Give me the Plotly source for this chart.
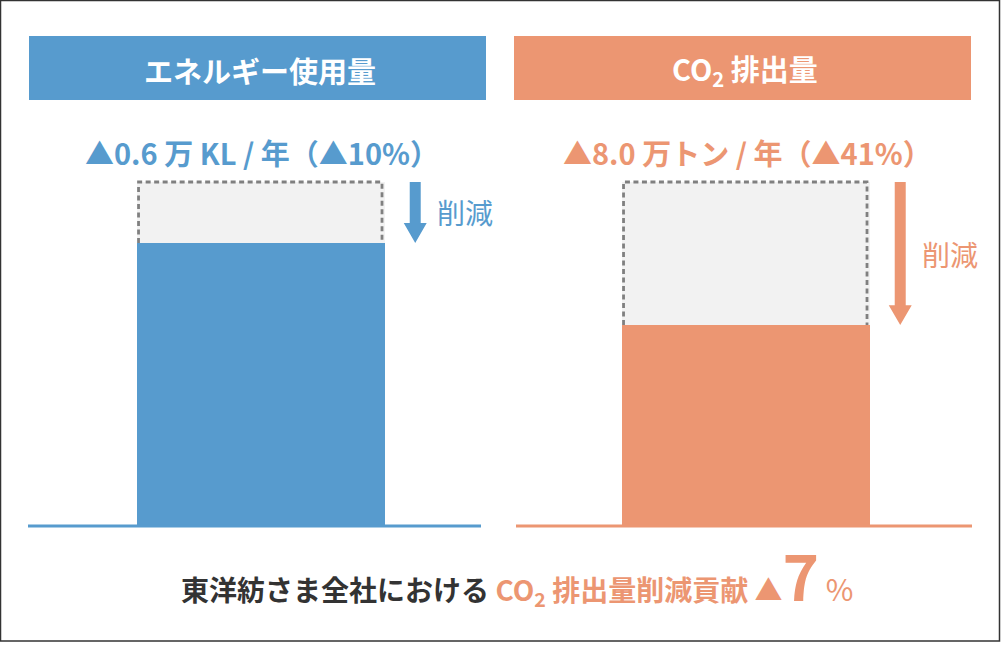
import plotly.graph_objects as go

# ---- data ----
categories = ["エネルギー使用量", "CO<sub>2</sub> 排出量"]
before_values = [100, 100]          # index before reduction
after_values = [82.3, 58.4]         # index after reduction (as drawn)
reduction_labels = ["▲0.6 万 KL / 年（▲10%）", "▲8.0 万トン / 年（▲41%）"]
arrow_label = "削減"
footer_dark = "東洋紡さま全社における"
footer_orange = "CO<sub>2</sub> 排出量削減貢献 ▲"
footer_value = "7"
footer_unit = "%"

BLUE = "#579BCE"
ORANGE = "#EC9672"
colors = [BLUE, ORANGE]
FONT = "Noto Sans CJK JP"

W, H = 1001, 664
def px(x):
    return x / W
def py(y):
    return 1 - y / H

x_pos = list(range(len(categories)))
bar_w = 0.511

fig = go.Figure()

# before (ghost) bars
fig.add_trace(go.Bar(
    x=x_pos, y=before_values, width=bar_w,
    marker=dict(color="#F2F2F2", line=dict(width=0)),
    hoverinfo="skip", showlegend=False,
))
# after bars
fig.add_trace(go.Bar(
    x=x_pos, y=after_values, width=bar_w,
    marker=dict(color=colors, line=dict(width=0)),
    hoverinfo="skip", showlegend=False,
))
# dashed outlines of the before bars
for i, (b, a) in enumerate(zip(before_values, after_values)):
    x0 = x_pos[i] - bar_w / 2 + 0.003
    x1 = x_pos[i] + bar_w / 2 - 0.006
    fig.add_trace(go.Scatter(
        x=[x0, x0, x1, x1], y=[a, b, b, a], mode="lines",
        line=dict(color="#808080", width=2.8, dash="5px,3.5px"),
        cliponaxis=False, hoverinfo="skip", showlegend=False,
    ))

shapes = []
annotations = []

# outer border
shapes.append(dict(type="rect", xref="paper", yref="paper",
                   x0=px(0.5), x1=px(999.5), y0=py(641), y1=py(0.5),
                   line=dict(color="#333333", width=1.5), fillcolor="rgba(0,0,0,0)"))

# headers
header_x = [(29, 486), (514, 971)]
for i, (hx0, hx1) in enumerate(header_x):
    shapes.append(dict(type="rect", xref="paper", yref="paper",
                       x0=px(hx0), x1=px(hx1), y0=py(100), y1=py(36),
                       line=dict(width=0), fillcolor=colors[i], layer="below"))
    annotations.append(dict(xref="paper", yref="paper", x=px((hx0 + hx1) / 2 + 2), y=py(70),
                            text=categories[i], showarrow=False,
                            font=dict(family=FONT, size=29, color="white", weight=700),
                            xanchor="center", yanchor="middle"))

# subtitles
for i, lbl in enumerate(reduction_labels):
    annotations.append(dict(xref="x", yref="paper", x=x_pos[i] + 0.003, y=py(152),
                            text=lbl, showarrow=False,
                            font=dict(family=FONT, size=29, color=colors[i], weight=700),
                            xanchor="center", yanchor="middle"))

# baselines
base_x = [(28, 481), (516, 972)]
for i, (bx0, bx1) in enumerate(base_x):
    shapes.append(dict(type="line", xref="paper", yref="y",
                       x0=px(bx0), x1=px(bx1), y0=0, y1=0,
                       line=dict(color=colors[i], width=3)))

# arrows
sw, hw, hh = 0.0227, 0.0474, 5.8
for i, (b, a) in enumerate(zip(before_values, after_values)):
    cx = x_pos[i] + 0.318
    path = (f"M {cx - sw/2},{b} L {cx + sw/2},{b} L {cx + sw/2},{a + hh} "
            f"L {cx + hw/2},{a + hh} L {cx},{a} L {cx - hw/2},{a + hh} "
            f"L {cx - sw/2},{a + hh} Z")
    shapes.append(dict(type="path", xref="x", yref="y", path=path,
                       fillcolor=colors[i], line=dict(width=0)))
    annotations.append(dict(xref="x", yref="y", x=x_pos[i] + 0.358, y=(b + a) / 2,
                            text=arrow_label, showarrow=False,
                            font=dict(family=FONT, size=28, color=colors[i], weight=400),
                            xanchor="left", yanchor="middle"))

# footer
footer = (f"<span style='color:#333333'>{footer_dark}</span> "
          f"<span style='color:{ORANGE}'>{footer_orange}</span>"
          f"<span style='color:{ORANGE};font-size:62px'>{footer_value}</span>"
          f"<span style='color:{ORANGE};font-size:30px;font-weight:400'> {footer_unit}</span>")
annotations.append(dict(xref="paper", yref="paper", x=px(517), y=py(621),
                        text=footer, showarrow=False,
                        font=dict(family=FONT, size=28, color="#333333", weight=700),
                        xanchor="center", yanchor="bottom"))

fig.update_layout(
    width=W, height=H,
    margin=dict(l=0, r=0, t=0, b=0),
    paper_bgcolor="white", plot_bgcolor="rgba(0,0,0,0)",
    barmode="overlay", bargap=0,
    showlegend=False,
    shapes=shapes, annotations=annotations,
    xaxis=dict(domain=[0, 1], range=[-261 / 485, (W - 261) / 485],
               visible=False, fixedrange=True),
    yaxis=dict(domain=[py(536.32), py(164.8)], range=[-3, 105],
               visible=False, fixedrange=True),
)

fig.write_html("out.html")
